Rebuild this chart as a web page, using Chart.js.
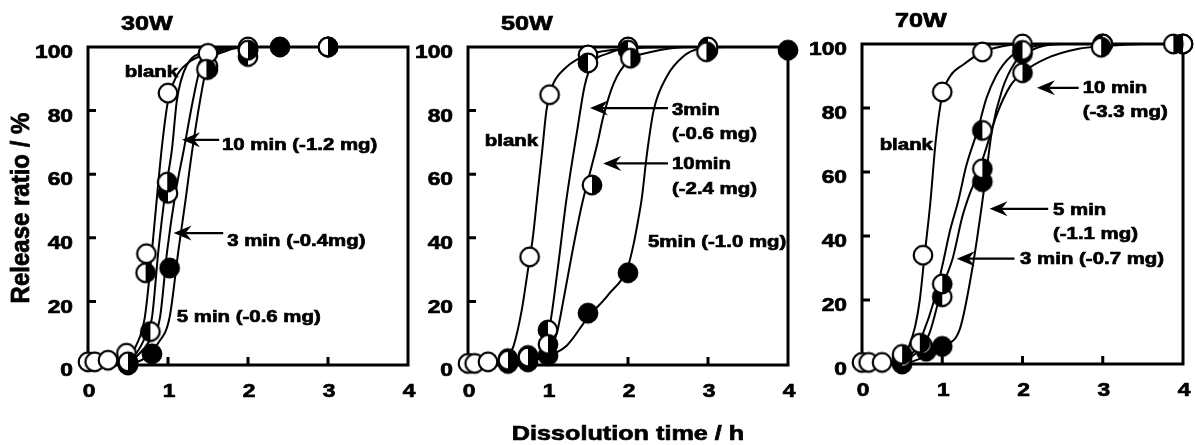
<!DOCTYPE html>
<html>
<head>
<meta charset="utf-8">
<script src="https://cdn.jsdelivr.net/npm/chart.js@4.4.1/dist/chart.umd.min.js"></script>
<style>
  html, body { margin: 0; padding: 0; background: #fff; }
  #wrap { position: relative; width: 1195px; height: 445px; overflow: hidden; }
  canvas { position: absolute; top: 0; }
</style>
</head>
<body>
<div id="wrap">
  <canvas id="c30" width="420" height="445" style="left:0px"></canvas>
  <canvas id="c50" width="405" height="445" style="left:405px"></canvas>
  <canvas id="c70" width="400" height="445" style="left:795px"></canvas>
</div>
<script>
// ==============================
// data
// ==============================
const panelTitles = ["30W", "50W", "70W"];
const xTicks = [0, 1, 2, 3, 4];
const yTicks = [0, 20, 40, 60, 80, 100];
const xTitle = "Dissolution time / h";
const yTitle = "Release ratio / %";

// 30W measured points [h, %]
const blank30 = [[0, 1], [0.083, 1], [0.25, 1.5], [0.48, 3.7], [0.73, 35], [1, 85.5], [1.5, 98], [2, 100], [3, 100]];
const min3_30 = [[0.5, 0.5], [0.78, 10.5], [1, 54], [1.5, 94], [2, 97], [3, 100]];
const min10_30 = [[0.5, 1], [0.72, 29], [0.99, 57.5], [1.48, 93], [2, 99], [3, 100]];
const min5_30 = [[0.5, 0], [0.8, 3.5], [1.02, 30.5], [1.5, 93], [2, 99], [2.4, 100]];
// 30W fitted curves
const curveBlank30 = [[0.35, 0.5], [0.5, 2], [0.6, 6], [0.71, 15], [0.8, 36], [0.87, 55], [0.93, 70], [1.0, 83], [1.1, 90.5], [1.25, 95], [1.5, 98], [1.75, 99.5], [2, 100], [4, 100]];
const curve10_30 = [[0.4, 0.5], [0.58, 3], [0.7, 8], [0.8, 15], [0.88, 36], [0.97, 55], [1.05, 68], [1.11, 83], [1.23, 94], [1.5, 98.5], [2, 100], [4, 100]];
const curve3_30 = [[0.45, 0.5], [0.62, 3], [0.78, 8], [0.9, 15], [0.99, 36], [1.1, 55], [1.2, 68], [1.31, 83], [1.4, 93], [1.6, 98], [2, 100], [4, 100]];
const curve5_30 = [[0.5, 0.3], [0.7, 2], [0.88, 7], [1.02, 15], [1.13, 36], [1.22, 52], [1.3, 67], [1.4, 83], [1.48, 93], [1.7, 98.5], [2.1, 100], [4, 100]];

// 50W measured points
const blank50 = [[0, 0.5], [0.083, 0.5], [0.25, 1], [0.77, 34], [1.02, 85], [1.5, 97.5], [2, 100]];
const min3_50 = [[0.5, 2], [0.75, 3], [1, 11], [1.5, 95], [2, 99], [3, 100]];
const min10_50 = [[0.5, 1.5], [0.75, 2.5], [1, 6.5], [1.55, 56.6], [2.03, 96.5], [2.98, 98.5]];
const min5_50 = [[0.5, 0.5], [0.75, 1], [1, 3], [1.5, 16.3], [2, 29], [3, 99], [4, 99]];
// 50W fitted curves
const curveBlank50 = [[0.35, 0.3], [0.5, 2.5], [0.57, 6], [0.67, 17], [0.75, 30], [0.81, 40], [0.87, 54], [0.93, 68], [0.98, 80], [1.05, 87.5], [1.2, 93], [1.5, 97.5], [2, 99.5], [2.5, 100], [4, 100]];
const curve3_50 = [[0.7, 0.5], [0.9, 3], [1.02, 12], [1.12, 30], [1.23, 52], [1.36, 73], [1.46, 88], [1.55, 94.5], [1.75, 98], [2.2, 100], [4, 100]];
const curve10_50 = [[0.75, 0.5], [1.0, 5], [1.11, 10], [1.19, 20], [1.3, 35], [1.42, 50], [1.52, 60], [1.62, 70], [1.69, 78], [1.82, 88.5], [2.0, 95.5], [2.3, 98.5], [2.8, 100], [4, 100]];
const curve5_50 = [[0.6, 0.5], [0.9, 2], [1.23, 6], [1.5, 15], [1.75, 22], [2.0, 31], [2.07, 38], [2.13, 46], [2.17, 52], [2.24, 67], [2.32, 80], [2.48, 90.5], [2.69, 97], [2.9, 99.5], [3.2, 100], [4, 100]];

// 70W measured points
const blank70 = [[0, 0.5], [0.083, 0.5], [0.25, 0.5], [0.76, 34], [1, 85], [1.5, 97.5], [2, 100]];
const min3_70 = [[0.5, 2], [0.75, 6], [1, 21], [1.5, 73], [2, 98], [3, 100], [4, 100]];
const min10_70 = [[0.5, 3], [0.72, 6.5], [1, 25], [1.5, 61], [2, 91], [2.98, 99], [3.88, 100]];
const min5_70 = [[0.5, 0], [0.8, 4], [1, 5.5], [1.5, 57], [2, 97], [3, 100], [4, 100]];
// 70W fitted curves
const curveBlank70 = [[0.35, 0.3], [0.5, 2], [0.56, 4], [0.66, 11.5], [0.72, 20], [0.78, 34], [0.85, 50], [0.92, 70], [1.0, 84], [1.1, 90], [1.26, 93.5], [1.5, 97.5], [1.75, 99.3], [2, 100], [4, 100]];
const curve3_70 = [[0.45, 0.5], [0.65, 4], [0.76, 9.6], [0.9, 20], [1.0, 30.6], [1.1, 42], [1.2, 51], [1.3, 62], [1.44, 73], [1.55, 83], [1.67, 90], [1.85, 96], [2.1, 99], [2.5, 100], [4, 100]];
const curve10_70 = [[0.5, 0.5], [0.7, 4], [0.84, 9.6], [1.0, 24], [1.13, 33], [1.25, 46], [1.34, 53], [1.42, 58], [1.53, 66], [1.68, 78], [1.85, 87], [2.0, 91], [2.3, 95.5], [2.7, 98.5], [3.0, 99.3], [3.5, 100], [4, 100]];
const curve5_70 = [[0.6, 0.5], [0.85, 3], [1.0, 5.5], [1.22, 11], [1.38, 30.6], [1.49, 49], [1.55, 60], [1.62, 73], [1.75, 86], [1.9, 94], [2.0, 96.5], [2.2, 99], [2.5, 100], [4, 100]];

// ==============================
// annotation texts (placed in data units)
// ==============================
const notes30 = [
  { lines: ["blank"], x: 0.46, y: 92 },
  { lines: ["10 min (-1.2 mg)"], x: 1.675, y: 69.2, arrow: [1.64, 70.8, 1.175, 70.8] },
  { lines: ["3 min (-0.4mg)"], x: 1.74, y: 38.8, arrow: [1.69, 41.5, 1.07, 41.5] },
  { lines: ["5 min (-0.6 mg)"], x: 1.11, y: 15 },
];
const notes50 = [
  { lines: ["blank"], x: 0.21, y: 70.2 },
  { lines: ["3min", "(-0.6 mg)"], x: 2.55, y: 80.2, arrow: [2.5, 80.8, 1.525, 80.8] },
  { lines: ["10min", "(-2.4 mg)"], x: 2.55, y: 63, arrow: [2.5, 63.4, 1.69, 63.4] },
  { lines: ["5min (-1.0 mg)"], x: 2.25, y: 38.5 },
];
const notes70 = [
  { lines: ["blank"], x: 0.22, y: 68.4 },
  { lines: ["10 min", "(-3.3 mg)"], x: 2.75, y: 86.3, arrow: [2.7, 86.3, 2.18, 86.3] },
  { lines: ["5 min", "(-1.1 mg)"], x: 2.38, y: 48.1, arrow: [2.32, 48.5, 1.59, 48.5] },
  { lines: ["3 min (-0.7 mg)"], x: 1.97, y: 32.8, arrow: [1.9, 32.9, 1.18, 32.9] },
];

// ==============================
// helpers
// ==============================
const FONT = '"Liberation Sans", Arial, sans-serif';
const STRETCH = 1.2; // the scanned figure is wider than plain Helvetica

function drawText(ctx, text, x, y, size, align) {
  ctx.save();
  ctx.font = `bold ${size}px ${FONT}`;
  ctx.textAlign = align;
  ctx.textBaseline = "middle";
  ctx.fillStyle = "#000";
  ctx.strokeStyle = "#000";
  ctx.lineWidth = 0.7;
  ctx.translate(x, y);
  ctx.scale(STRETCH, 1);
  ctx.fillText(text, 0, 0);
  ctx.strokeText(text, 0, 0);
  ctx.restore();
}

function drawArrow(ctx, x1, y1, x2, y2) {
  const a = Math.atan2(y2 - y1, x2 - x1);
  const len = Math.hypot(x2 - x1, y2 - y1);
  ctx.save();
  ctx.translate(x2, y2);
  ctx.rotate(a);
  ctx.strokeStyle = "#000";
  ctx.fillStyle = "#000";
  ctx.lineWidth = 2.2;
  ctx.beginPath();
  ctx.moveTo(-len, 0);
  ctx.lineTo(-10, 0);
  ctx.stroke();
  ctx.beginPath();
  ctx.moveTo(0, 0);
  ctx.lineTo(-18, -7.5);
  ctx.lineTo(-12, 0);
  ctx.lineTo(-18, 7.5);
  ctx.closePath();
  ctx.fill();
  ctx.restore();
}

// circle markers: open, left half black, right half black, filled
function makeMarker(kind) {
  const s = 24, m = s / 2, r = 9.3;
  const c = document.createElement("canvas");
  c.width = s;
  c.height = s;
  const g = c.getContext("2d");
  g.beginPath();
  g.arc(m, m, r, 0, Math.PI * 2);
  g.fillStyle = kind === "filled" ? "#000" : "#fff";
  g.fill();
  if (kind === "left" || kind === "right") {
    g.beginPath();
    if (kind === "left") g.arc(m, m, r, Math.PI / 2, Math.PI * 1.5);
    else g.arc(m, m, r, -Math.PI / 2, Math.PI / 2);
    g.closePath();
    g.fillStyle = "#000";
    g.fill();
  }
  g.beginPath();
  g.arc(m, m, r, 0, Math.PI * 2);
  g.lineWidth = 2.2;
  g.strokeStyle = "#000";
  g.stroke();
  return c;
}
const MARKERS = {
  open: makeMarker("open"),
  left: makeMarker("left"),
  right: makeMarker("right"),
  filled: makeMarker("filled"),
};

const toXY = (pts) => pts.map(([x, y]) => ({ x, y }));

// ==============================
// decoration plugin (frame, ticks, texts, arrows)
// ==============================
function makeDecor(panel) {
  return {
    id: "decor_" + panel.id,

    beforeDatasetsDraw(chart) {
      const ctx = chart.ctx;
      const { left, right, top, bottom } = chart.chartArea;
      const xs = chart.scales.x;
      const ys = chart.scales.y;
      ctx.save();
      ctx.strokeStyle = "#000";
      ctx.lineWidth = 3;
      ctx.strokeRect(left, top, right - left, bottom - top);

      // inward tick marks
      ctx.beginPath();
      xTicks.slice(1, -1).forEach((v) => {
        const px = xs.getPixelForValue(v);
        ctx.moveTo(px, bottom);
        ctx.lineTo(px, bottom - 8);
      });
      yTicks.slice(1, -1).forEach((v) => {
        const py = ys.getPixelForValue(v);
        ctx.moveTo(left, py);
        ctx.lineTo(left + 8, py);
      });
      ctx.stroke();
      ctx.restore();
    },

    afterDraw(chart) {
      const ctx = chart.ctx;
      const { left, right, top, bottom } = chart.chartArea;
      const xs = chart.scales.x;
      const ys = chart.scales.y;

      // tick labels
      yTicks.forEach((v) => {
        drawText(ctx, String(v), left - 15, ys.getPixelForValue(v) + 6, 19, "right");
      });
      xTicks.forEach((v) => {
        drawText(ctx, String(v), xs.getPixelForValue(v) + 1, bottom + 27, 19, "center");
      });

      // panel title
      drawText(ctx, panel.title, left + 33, top - 22.5, 21, "left");

      // notes + arrows
      panel.notes.forEach((n) => {
        const px = xs.getPixelForValue(n.x);
        const py = ys.getPixelForValue(n.y);
        n.lines.forEach((t, i) => drawText(ctx, t, px, py + i * 24.5, 17, "left"));
        if (n.arrow) {
          const [ax1, ay1, ax2, ay2] = n.arrow;
          drawArrow(ctx, xs.getPixelForValue(ax1), ys.getPixelForValue(ay1),
                         xs.getPixelForValue(ax2), ys.getPixelForValue(ay2));
        }
      });

      // shared axis titles
      if (panel.xTitle) {
        drawText(ctx, xTitle, (left + right) / 2, bottom + 69, 21, "center");
      }
      if (panel.yTitle) {
        ctx.save();
        ctx.font = `bold 24px ${FONT}`;
        ctx.textAlign = "center";
        ctx.textBaseline = "middle";
        ctx.fillStyle = "#000";
        ctx.strokeStyle = "#000";
        ctx.lineWidth = 0.7;
        ctx.translate(22, (top + bottom) / 2 + 2);
        ctx.rotate(-Math.PI / 2);
        ctx.scale(1, 1.1);
        ctx.fillText(yTitle, 0, 0);
        ctx.strokeText(yTitle, 0, 0);
        ctx.restore();
      }
    },
  };
}

// ==============================
// create
// ==============================
function createPanel(panel) {
  const datasets = [];
  panel.series.forEach(([pts, style], i) => {
    datasets.push({
      data: toXY(pts),
      pointStyle: MARKERS[style],
      pointRadius: 10,
      pointHoverRadius: 10,
      showLine: false,
      clip: false,
      order: i,
    });
  });
  panel.curves.forEach((pts) => {
    datasets.push({
      data: toXY(pts),
      showLine: true,
      pointRadius: 0,
      pointHoverRadius: 0,
      borderColor: "#000",
      borderWidth: 2,
      cubicInterpolationMode: "monotone",
      clip: false,
      order: 10,
    });
  });

  return new Chart(document.getElementById(panel.id), {
    type: "scatter",
    data: { datasets },
    options: {
      responsive: false,
      animation: false,
      events: [],
      layout: { padding: panel.pad },
      plugins: {
        legend: { display: false },
        tooltip: { enabled: false },
      },
      scales: {
        x: {
          type: "linear",
          min: 0,
          max: 4,
          ticks: { display: false, stepSize: 1 },
          grid: { display: false },
          border: { display: false },
          afterFit(s) { s.height = 0; },
        },
        y: {
          type: "linear",
          min: 0,
          max: 100,
          ticks: { display: false, stepSize: 20 },
          grid: { display: false },
          border: { display: false },
          afterFit(s) { s.width = 0; },
        },
      },
    },
    plugins: [makeDecor(panel)],
  });
}

createPanel({
  id: "c30",
  title: panelTitles[0],
  pad: { left: 88, right: 12, top: 47, bottom: 80 },
  series: [[min10_30, "right"], [blank30, "open"], [min3_30, "left"], [min5_30, "filled"]],
  curves: [curveBlank30, curve10_30, curve3_30, curve5_30],
  notes: notes30,
  yTitle: true,
});

createPanel({
  id: "c50",
  title: panelTitles[1],
  pad: { left: 63, right: 22, top: 47, bottom: 80 },
  series: [[min10_50, "right"], [min3_50, "left"], [min5_50, "filled"], [blank50, "open"]],
  curves: [curveBlank50, curve3_50, curve10_50, curve5_50],
  notes: notes50,
  xTitle: true,
});

createPanel({
  id: "c70",
  title: panelTitles[2],
  pad: { left: 67, right: 12, top: 44, bottom: 81 },
  series: [[min10_70, "right"], [min3_70, "left"], [min5_70, "filled"], [blank70, "open"]],
  curves: [curveBlank70, curve3_70, curve10_70, curve5_70],
  notes: notes70,
});
</script>
</body>
</html>
